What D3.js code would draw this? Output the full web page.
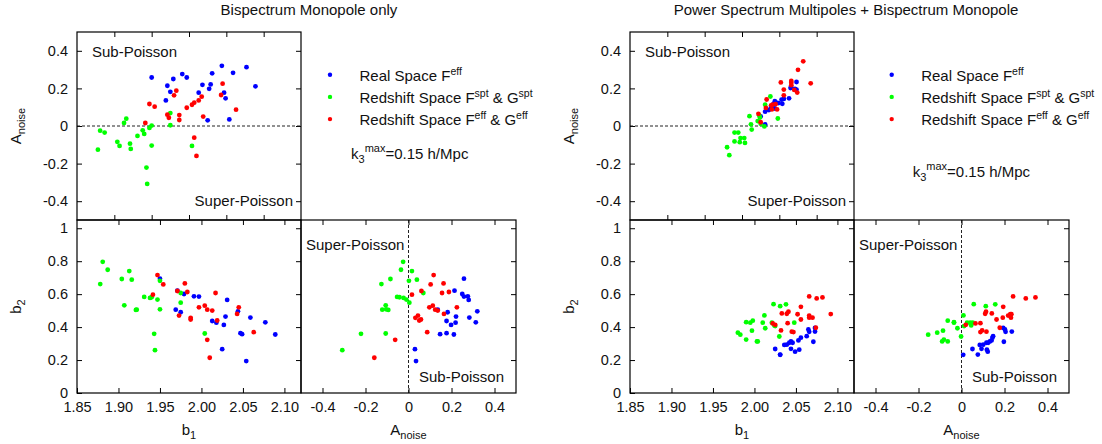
<!DOCTYPE html>
<html>
<head>
<meta charset="utf-8">
<script src="https://cdnjs.cloudflare.com/ajax/libs/d3/7.8.5/d3.min.js"></script>
<style>
  body { margin: 0; background: #fff; }
  svg text { font-family: "Liberation Sans", Arial, Helvetica, sans-serif; fill: #111; }
</style>
</head>
<body>
<div id="chart"></div>
<script>
// every point is [b1, A_noise, b2]
const bispReal = [
    [1.950, 0.258, 0.694], [1.969, 0.136, 0.506], [1.971, 0.214, 0.621], [1.975, 0.182, 0.490],
    [1.979, 0.250, 0.601], [1.991, 0.276, 0.587], [1.997, 0.258, 0.585], [2.013, 0.177, 0.437],
    [2.018, 0.219, 0.427], [2.025, 0.030, 0.266], [2.027, 0.198, 0.413], [2.029, 0.221, 0.464],
    [2.031, 0.280, 0.565], [2.044, 0.320, 0.496], [2.047, 0.177, 0.363], [2.049, 0.147, 0.357],
    [2.054, 0.035, 0.194], [2.059, 0.283, 0.458], [2.077, 0.313, 0.429], [2.089, 0.211, 0.355]
];
const bispRsdSpt = [
    [1.878, -0.126, 0.661], [1.881, -0.025, 0.796], [1.887, -0.035, 0.748], [1.904, -0.084, 0.692],
    [1.907, -0.106, 0.532], [1.913, 0.016, 0.740], [1.916, 0.039, 0.688], [1.921, -0.094, 0.504],
    [1.922, -0.122, 0.506], [1.931, -0.053, 0.583], [1.938, -0.023, 0.577], [1.940, -0.042, 0.581],
    [1.943, -0.221, 0.359], [1.944, -0.308, 0.260], [1.947, -0.010, 0.567], [1.950, 0.002, 0.681],
    [1.950, -0.104, 0.508], [1.975, 0.069, 0.607], [1.975, 0.004, 0.548], [2.004, -0.106, 0.361]
];
const bispRsdEff = [
    [1.9415, 0.016, 0.597], [1.947, 0.117, 0.716], [1.954, 0.103, 0.659], [1.971, 0.060, 0.619],
    [1.973, 0.044, 0.470], [1.980, 0.163, 0.665], [1.983, 0.188, 0.613], [1.987, 0.058, 0.446],
    [1.987, 0.032, 0.456], [1.997, 0.097, 0.520], [2.004, 0.113, 0.530], [2.007, 0.124, 0.506],
    [2.007, -0.062, 0.323], [2.010, -0.159, 0.214], [2.013, 0.136, 0.500], [2.017, 0.156, 0.607],
    [2.019, 0.050, 0.440], [2.043, 0.165, 0.480], [2.045, 0.225, 0.520], [2.063, 0.087, 0.369]
];
const fullReal = [
    [2.031, 0.008, 0.232], [2.031, 0.076, 0.233], [2.049, 0.122, 0.251], [2.054, 0.118, 0.263],
    [2.044, 0.093, 0.268], [2.025, 0.051, 0.267], [2.036, 0.085, 0.292], [2.039, 0.101, 0.293],
    [2.042, 0.116, 0.305], [2.046, 0.124, 0.305], [2.044, 0.132, 0.313], [2.071, 0.197, 0.311],
    [2.053, 0.140, 0.319], [2.056, 0.144, 0.336], [2.063, 0.147, 0.345], [2.073, 0.234, 0.373],
    [2.065, 0.202, 0.386], [2.073, 0.194, 0.395], [2.066, 0.205, 0.371]
];
const fullRsdSpt = [
    [1.980, -0.113, 0.366], [1.983, -0.155, 0.354], [1.990, -0.035, 0.430], [1.990, -0.082, 0.324],
    [1.995, -0.035, 0.427], [1.998, -0.064, 0.439], [1.997, -0.086, 0.378], [2.003, -0.064, 0.313],
    [2.004, -0.090, 0.313], [2.010, 0.052, 0.427], [2.013, -0.019, 0.393], [2.012, 0.009, 0.471],
    [2.021, 0.026, 0.427], [2.023, 0.057, 0.539], [2.031, 0.113, 0.527], [2.038, 0.157, 0.538],
    [2.048, 0.040, 0.427], [2.025, 0.012, 0.406], [2.030, -0.002, 0.343], [2.024, 0.045, 0.410]
];
const fullRsdEff = [
    [2.066, 0.240, 0.586], [2.082, 0.344, 0.580], [2.075, 0.299, 0.574], [2.056, 0.194, 0.523],
    [2.041, 0.114, 0.493], [2.033, 0.141, 0.483], [2.039, 0.110, 0.481], [2.052, 0.232, 0.478],
    [2.092, 0.227, 0.479], [2.066, 0.217, 0.470], [2.066, 0.230, 0.457], [2.070, 0.192, 0.457],
    [2.056, 0.163, 0.446], [2.040, 0.088, 0.424], [2.022, 0.065, 0.422], [2.025, 0.020, 0.414],
    [2.074, 0.178, 0.396], [2.032, 0.096, 0.380], [2.045, 0.116, 0.372], [2.047, 0.088, 0.370]
];

const titles = ["Bispectrum Monopole only", "Power Spectrum Multipoles + Bispectrum Monopole"];
const seriesColors = ["#0000ff", "#00ff00", "#ff0000"];
// legend entries: [main, sup, main, sup]
const legendLabels = [
    ["Real Space F", "eff", "", ""],
    ["Redshift Space F", "spt", " & G", "spt"],
    ["Redshift Space F", "eff", " & G", "eff"]
];
const b1Ticks = [1.85, 1.90, 1.95, 2.00, 2.05, 2.10];
const b1TopTicks = [1.90, 1.95, 2.00, 2.05, 2.10];
const anoiseTicks = [-0.4, -0.2, 0, 0.2, 0.4];
const b2Ticks = [0, 0.2, 0.4, 0.6, 0.8, 1];

const width = 1102, height = 444;
const svg = d3.select("#chart").append("svg")
    .attr("width", width)
    .attr("height", height);

const figures = [
    { ox: 0, title: titles[0], titleX: 309, series: [bispReal, bispRsdSpt, bispRsdEff], legX: 330, kY: 159 },
    { ox: 553, title: titles[1], titleX: 846, series: [fullReal, fullRsdSpt, fullRsdEff], legX: 338.7, kY: 177 }
];

const fmtA = d => d === 0 ? "0" : d.toFixed(1);
const fmtB1 = d => d.toFixed(2);
const fmtB2 = d => String(d);
const TICK = 5;

function axis(g, ax, tr, fmt) {
    const a = g.append("g").attr("transform", tr)
        .call(ax.tickFormat(fmt || "").tickPadding(9));
    a.select(".domain").remove();
    a.selectAll("line").attr("stroke", "#000");
    a.selectAll("text").attr("font-size", 14.5).attr("fill", "#111")
        .attr("font-family", "Liberation Sans, Arial, sans-serif");
    a.attr("font-family", null).attr("font-size", null);
    return a;
}

function dots(g, data, xs, ys, xi, yi, color) {
    g.append("g").selectAll("circle")
        .data(data)
        .enter().append("circle")
        .attr("cx", d => xs(d[xi]))
        .attr("cy", d => ys(d[yi]))
        .attr("r", 2.4)
        .attr("fill", color);
}

function subLabel(g, x, y, main, sub, rotate) {
    const t = g.append("text")
        .attr("text-anchor", "middle")
        .attr("font-size", 15)
        .attr("transform", "translate(" + x + "," + y + ")" + (rotate ? " rotate(-90)" : ""));
    t.append("tspan").text(main);
    t.append("tspan").attr("font-size", 11).attr("dy", 4).text(sub);
}

figures.forEach(function (f) {
    const ox = f.ox;
    const g = svg.append("g");
    const L = ox + 77, M = ox + 301, R = ox + 516;
    const T = 32, Mid = 220, B = 393;

    const xTop = d3.scaleLinear().domain([1.85, 2.15]).range([L, M]);
    const yTop = d3.scaleLinear().domain([-0.5, 0.5]).range([Mid, T]);
    const xBL = d3.scaleLinear().domain([1.85, 2.12]).range([L, M]);
    const yBot = d3.scaleLinear().domain([0, 1.05]).range([B, Mid]);
    const xBR = d3.scaleLinear().domain([-0.5, 0.5]).range([M, R]);

    // title
    g.append("text").attr("x", f.titleX).attr("y", 15)
        .attr("text-anchor", "middle").attr("font-size", 15).text(f.title);

    // ticks top panel
    axis(g, d3.axisLeft(yTop).tickValues(anoiseTicks).tickSize(-TICK), "translate(" + L + ",0)", fmtA);
    axis(g, d3.axisRight(yTop).tickValues(anoiseTicks).tickSize(-TICK), "translate(" + M + ",0)");
    axis(g, d3.axisTop(xTop).tickValues(b1TopTicks).tickSize(-TICK), "translate(0," + T + ")");
    axis(g, d3.axisBottom(xTop).tickValues(b1TopTicks).tickSize(-TICK), "translate(0," + Mid + ")");

    // ticks bottom-left panel
    axis(g, d3.axisLeft(yBot).tickValues(b2Ticks).tickSize(-TICK), "translate(" + L + ",0)", fmtB2);
    axis(g, d3.axisRight(yBot).tickValues(b2Ticks.slice(1)).tickSize(-TICK), "translate(" + M + ",0)");
    axis(g, d3.axisBottom(xBL).tickValues(b1Ticks).tickSize(-TICK), "translate(0," + B + ")", fmtB1);
    axis(g, d3.axisTop(xBL).tickValues(b1Ticks.slice(1)).tickSize(-TICK), "translate(0," + Mid + ")");

    // ticks bottom-right panel
    axis(g, d3.axisRight(yBot).tickValues(b2Ticks.slice(1)).tickSize(-TICK), "translate(" + R + ",0)");
    axis(g, d3.axisBottom(xBR).tickValues(anoiseTicks).tickSize(-TICK), "translate(0," + B + ")", fmtA);
    axis(g, d3.axisTop(xBR).tickValues(anoiseTicks).tickSize(-TICK), "translate(0," + Mid + ")");

    // zero lines
    g.append("line").attr("x1", L).attr("x2", M).attr("y1", yTop(0)).attr("y2", yTop(0))
        .attr("stroke", "#222").attr("stroke-dasharray", "3,2");
    g.append("line").attr("x1", xBR(0)).attr("x2", xBR(0)).attr("y1", Mid).attr("y2", B)
        .attr("stroke", "#222").attr("stroke-dasharray", "3,2");

    // points
    f.series.forEach(function (s, i) {
        dots(g, s, xTop, yTop, 0, 1, seriesColors[i]);
        dots(g, s, xBL, yBot, 0, 2, seriesColors[i]);
        dots(g, s, xBR, yBot, 1, 2, seriesColors[i]);
    });

    // borders
    const border = g.append("g").attr("fill", "none").attr("stroke", "#000").attr("stroke-width", 1.2);
    border.append("rect").attr("x", L).attr("y", T).attr("width", M - L).attr("height", Mid - T);
    border.append("rect").attr("x", L).attr("y", Mid).attr("width", M - L).attr("height", B - Mid);
    border.append("rect").attr("x", M).attr("y", Mid).attr("width", R - M).attr("height", B - Mid);

    // region notes
    const note = (x, y, txt, anchor) => g.append("text").attr("x", x).attr("y", y)
        .attr("text-anchor", anchor || "start").attr("font-size", 15).text(txt);
    note(L + 15, 57, "Sub-Poisson");
    note(M - 8, 206, "Super-Poisson", "end");
    note(M + 5, 250, "Super-Poisson");
    note(M + 118, 382, "Sub-Poisson");

    // axis labels
    subLabel(g, ox + 21, yTop(0), "A", "noise", true);
    subLabel(g, ox + 21, (Mid + B) / 2, "b", "2", true);
    subLabel(g, (L + M) / 2, 435, "b", "1", false);
    subLabel(g, (M + R) / 2, 435, "A", "noise", false);

    // legend
    const legY = [74.7, 96.9, 119.1];
    legendLabels.forEach(function (lab, i) {
        g.append("circle").attr("cx", ox + f.legX).attr("cy", legY[i]).attr("r", 2.2)
            .attr("fill", seriesColors[i]);
        const t = g.append("text").attr("x", ox + f.legX + 29.5).attr("y", legY[i] + 6)
            .attr("font-size", 15);
        t.append("tspan").text(lab[0]);
        t.append("tspan").attr("font-size", 10.5).attr("dy", -6).text(lab[1]);
        if (lab[2]) {
            t.append("tspan").attr("dy", 6).text(lab[2]);
            t.append("tspan").attr("font-size", 10.5).attr("dy", -6).text(lab[3]);
        }
    });

    const k = g.append("text").attr("x", ox + f.legX + 21).attr("y", f.kY).attr("font-size", 15);
    k.append("tspan").text("k");
    k.append("tspan").attr("font-size", 11).attr("dy", 4).text("3");
    k.append("tspan").attr("font-size", 11).attr("dy", -11).text("max");
    k.append("tspan").attr("dy", 7).text("=0.15 h/Mpc");
});
</script>
</body>
</html>
